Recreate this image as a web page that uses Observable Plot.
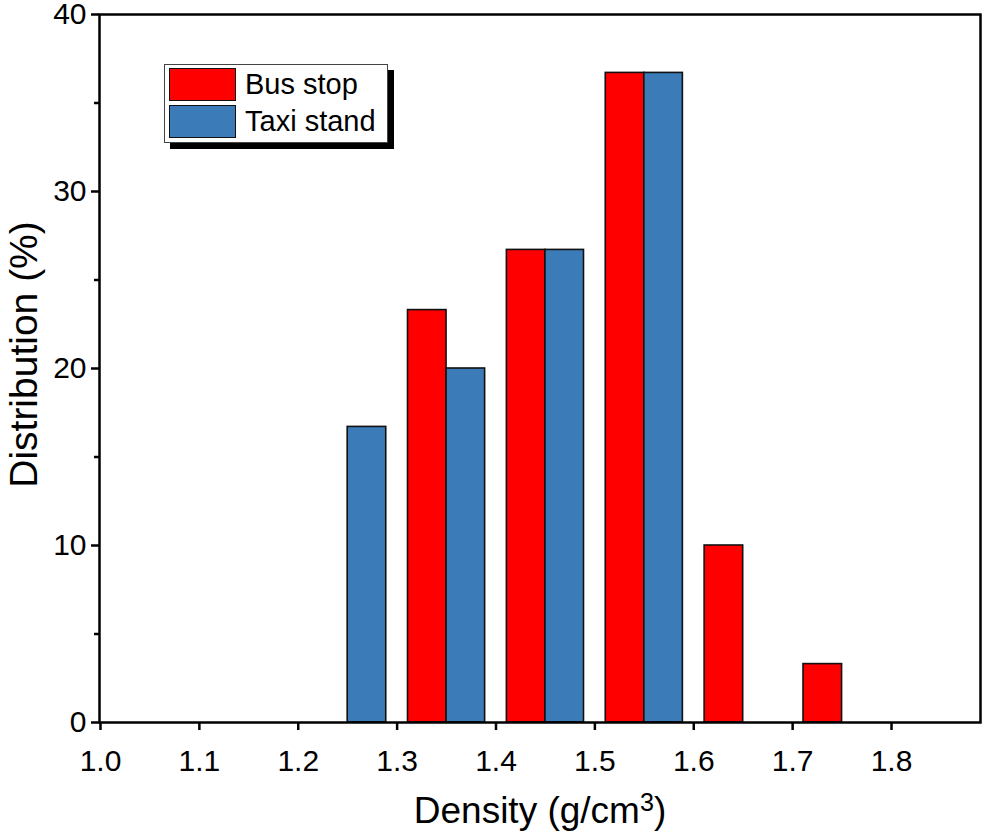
<!DOCTYPE html>
<html>
<head>
<meta charset="utf-8">
<script src="https://cdn.jsdelivr.net/npm/d3@7"></script>
<script src="https://cdn.jsdelivr.net/npm/@observablehq/plot@0.6"></script>
<style>
  html, body { margin: 0; padding: 0; background: #fff; }
  #wrap { position: relative; width: 984px; height: 840px; font-family: Arial, "Liberation Sans", sans-serif; }
  #legend { position: absolute; left: 164px; top: 64px; width: 224px; height: 79px; background: #fff;
    border: 1px solid #444; box-shadow: 6px 6px 0 #000; box-sizing: border-box; }
  .row { position: absolute; left: 4px; display: flex; align-items: center; height: 33px; }
  .sw { width: 67px; height: 33px; border: 1.5px solid #111; box-sizing: border-box; }
  .lab { margin-left: 9px; font-size: 29px; color: #000; white-space: nowrap; }
</style>
</head>
<body>
<div id="wrap"></div>
<script>
// Data
const bins = [1.25, 1.35, 1.45, 1.55, 1.65, 1.75];
const busStop = [0, 23.3, 26.7, 36.7, 10, 3.3];
const taxiStand = [16.7, 20, 26.7, 36.7, 0, 0];
const seriesNames = ["Bus stop", "Taxi stand"];
const xTicks = [1.0, 1.1, 1.2, 1.3, 1.4, 1.5, 1.6, 1.7, 1.8];
const yTicks = [0, 10, 20, 30, 40];
const yMinorTicks = [5, 15, 25, 35];
const xTitle = "Density (g/cm³)";
const yTitle = "Distribution (%)";

const colors = {"Bus stop": "#ff0000", "Taxi stand": "#3a7bb8"};
const bw = 0.039;

const rows = [];
bins.forEach((b, i) => {
  if (busStop[i] > 0) rows.push({series: "Bus stop", x1: b - bw, x2: b, y: busStop[i]});
  if (taxiStand[i] > 0) rows.push({series: "Taxi stand", x1: b, x2: b + bw, y: taxiStand[i]});
});

const font = "Arial, 'Liberation Sans', sans-serif";

const chart = Plot.plot({
  width: 984,
  height: 840,
  marginLeft: 99,
  marginRight: 4,
  marginTop: 14,
  marginBottom: 118,
  style: {fontFamily: font, background: "#fff", color: "#000", overflow: "visible"},
  x: {domain: [0.999, 1.89]},
  y: {domain: [0, 40]},
  marks: [
    Plot.rectY(rows, {x1: "x1", x2: "x2", y1: 0, y2: "y", fill: d => colors[d.series], stroke: "#111", strokeWidth: 1.6}),
    Plot.axisX({ticks: xTicks, tickFormat: d3.format(".1f"), tickSize: 8, tickPadding: 19, fontSize: 30, label: null, strokeWidth: 2.5}),
    Plot.axisY({ticks: yTicks, tickSize: 8, tickPadding: 5, fontSize: 30, label: null, strokeWidth: 2.5}),
    Plot.axisY({ticks: yMinorTicks, tickSize: 5, tickFormat: () => "", label: null, strokeWidth: 2.5}),
    Plot.frame({stroke: "#000", strokeWidth: 2.5}),
    Plot.text([xTitle], {frameAnchor: "bottom", textAnchor: "middle", dy: 100, fontSize: 37, fill: "#000", className: "xtitle"}),
    Plot.text([yTitle], {frameAnchor: "left", textAnchor: "middle", dx: -75, dy: -14, rotate: -90, fontSize: 39, fill: "#000", className: "ytitle"})
  ]
});

// true superscript for the unit
d3.select(chart).selectAll(".xtitle text").each(function() {
  const s = this.textContent;
  const m = s.match(/^(.*)³(.*)$/);
  if (m) {
    const sel = d3.select(this);
    sel.text(m[1]);
    sel.append("tspan").attr("dy", "-0.45em").attr("font-size", "0.68em").text("3");
    sel.append("tspan").attr("dy", "0.306em").text(m[2]);
  }
});

const wrap = document.getElementById("wrap");
wrap.appendChild(chart);

const legend = document.createElement("div");
legend.id = "legend";
seriesNames.forEach((name, i) => {
  const row = document.createElement("div");
  row.className = "row";
  row.style.top = (3 + i * 37) + "px";
  row.innerHTML = `<div class="sw" style="background:${colors[name]}"></div><span class="lab">${name}</span>`;
  legend.appendChild(row);
});
wrap.appendChild(legend);
</script>
</body>
</html>
